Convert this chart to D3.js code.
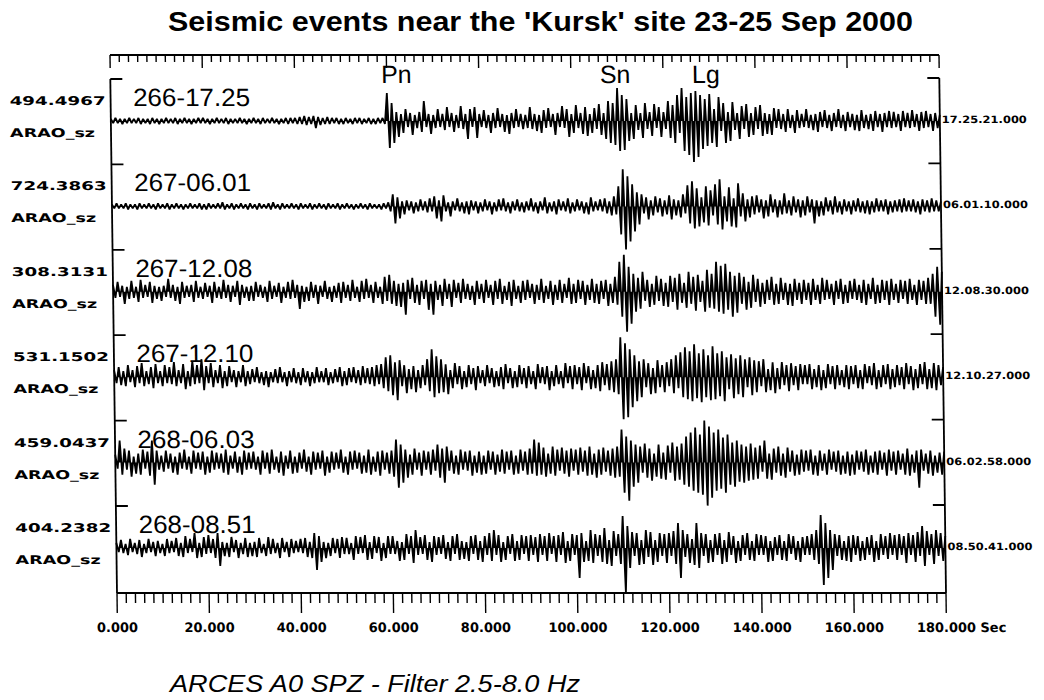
<!DOCTYPE html>
<html><head><meta charset="utf-8">
<script src="https://cdn.jsdelivr.net/npm/d3@7"></script>
<style>body{margin:0;background:#fff}svg{display:block}</style>
</head><body>
<svg id="chart" width="1044" height="700"></svg>
<script>
// ---------------- data ----------------
const chartTitle = "Seismic events near the 'Kursk' site 23-25 Sep 2000";
const footerText = "ARCES A0 SPZ - Filter 2.5-8.0 Hz";
const eventLabels = ["266-17.25","267-06.01","267-12.08","267-12.10","268-06.03","268-08.51"];
const scaleLabels = ["494.4967","724.3863","308.3131","531.1502","459.0437","404.2382"];
const channelLabels = ["ARAO_sz","ARAO_sz","ARAO_sz","ARAO_sz","ARAO_sz","ARAO_sz"];
const startTimes = ["17.25.21.000","06.01.10.000","12.08.30.000","12.10.27.000","06.02.58.000","08.50.41.000"];
const phaseNames = ["Pn","Sn","Lg"];
const phaseTimes = [58.8, 106.3, 126.3];
const timeTicks = [0,20,40,60,80,100,120,140,160,180];
const axisUnit = "Sec";
const sampleStep = 0.5; // seconds between successive peak/trough samples

const wave266_1725 = [].concat(
[2,-2,3,-2,2,-3,2,-2,3,-2,2,-2,3,-3,2,-2,2,-3,3,-2],
[2,-3,2,-2,3,-2,2,-2,3,-3,2,-2,3,-2,2,-3,2,-2,3,-2],
[3,-2,2,-3,2,-2,3,-2,2,-2,3,-3,2,-2,2,-2,3,-2,2,-3],
[2,-2,3,-2,2,-3,3,-2,2,-2,3,-2,2,-3,2,-2,3,-3,3,-2],
[3,-3,4,-3,5,-4,4,-3,5,-7,4,-4,3,-3,4,-3,3,-2,3,-3],
[2,-3,3,-2,2,-3,3,-2,3,-3,2,-2,3,-3,2,-3,3,-2,3,-3],
[28,-27,18,-22,9,-16,7,-12,12,-6,8,-14,6,-7,9,-11,20,-6,7,-13],
[6,-7,12,-6,7,-9,14,-6,8,-11,6,-7,15,-8,7,-18,12,-6,14,-17],
[7,-6,11,-7,6,-12,8,-7,13,-6,7,-11,6,-13,8,-7,12,-6,7,-8],
[6,-7,14,-8,7,-10,6,-12,11,-7,13,-6,7,-14,8,-6,15,-7,12,-16],
[7,-12,16,-7,8,-13,14,-15,7,-12,13,-8,17,-14,8,-18,20,-22,18,-24],
[33,-30,26,-29,22,-20,8,-18,16,-9,8,-17,18,-8,9,-15,17,-7,14,-16],
[9,-8,20,-17,16,-22,26,-12,33,-30,24,-34,28,-41,30,-36,26,-28,22,-25],
[27,-22,12,-26,24,-10,18,-22,9,-20,19,-9,8,-18,15,-8,17,-16,8,-14],
[14,-8,16,-15,8,-13,7,-14,13,-7,12,-8,7,-11,12,-7,6,-12,11,-7],
[7,-6,12,-7,6,-9,7,-11,9,-6,11,-7,6,-10,8,-6,12,-7,6,-10],
[9,-6,7,-9,6,-10,11,-7,6,-8,7,-10,10,-6,7,-11,8,-6,10,-7],
[9,-6,7,-10,10,-6,8,-7,11,-6,7,-10,9,-7,10,-6,7,-10,8,-7],
[6]);

const wave267_0601 = [].concat(
[2,-2,3,-2,2,-2,3,-3,2,-2,2,-3,3,-2,2,-2,3,-2,2,-3],
[3,-2,2,-2,3,-3,2,-2,3,-2,2,-3,2,-2,3,-2,2,-2,3,-3],
[2,-3,3,-2,2,-2,3,-2,4,-3,2,-2,3,-3,2,-2,3,-2,2,-3],
[3,-2,2,-3,3,-2,2,-2,3,-3,4,-2,2,-3,3,-2,2,-2,3,-2],
[2,-3,3,-2,2,-2,3,-3,2,-2,3,-2,2,-3,3,-2,2,-2,3,-3],
[2,-2,3,-2,2,-3,2,-2,3,-2,2,-3,3,-2,2,-2,2,-3,3,-2],
[4,-5,12,-17,9,-12,5,-8,6,-4,5,-7,4,-5,7,-4,5,-6,8,-5],
[10,-12,6,-15,11,-5,4,-10,5,-4,8,-5,4,-7,5,-8,6,-4,5,-7],
[4,-5,7,-4,5,-8,4,-5,7,-4,8,-5,4,-7,5,-4,7,-5,4,-6],
[5,-4,8,-5,4,-7,5,-4,9,-7,4,-5,5,-8,7,-4,5,-5,8,-7],
[4,-5,7,-4,5,-7,4,-8,9,-5,5,-4,7,-5,8,-7,5,-9,10,-8],
[20,-28,37,-43,30,-35,22,-25,14,-18,12,-7,9,-13,6,-9,10,-6,8,-10],
[6,-8,11,-13,7,-9,6,-11,12,-7,21,-17,25,-22,18,-20,9,-16,20,-19],
[16,-9,22,-18,27,-23,10,-15,19,-20,8,-21,23,-10,13,-15,7,-11,10,-8],
[11,-6,7,-12,6,-10,12,-6,7,-11,6,-8,13,-7,6,-9,10,-6,7,-11],
[6,-9,10,-6,7,-17,6,-10,5,-9,9,-5,6,-8,10,-6,5,-8,7,-5],
[5,-8,6,-5,8,-6,5,-7,6,-8,5,-6,8,-5,6,-5,7,-8,5,-6],
[6,-5,7,-6,8,-5,6,-5,7,-6,5,-8,7,-5,6,-6,8,-5,6,-5],
[5]);

const wave267_1208 = [].concat(
[7,-6,10,-5,6,-12,5,-7,11,-6,5,-10,12,-6,7,-5,10,-11,6,-7],
[5,-9,6,-5,13,-6,7,-9,5,-12,10,-6,6,-5,7,-10,11,-6,5,-7],
[9,-5,6,-11,10,-6,5,-7,12,-6,7,-10,6,-5,11,-13,7,-6,5,-9],
[6,-9,10,-5,7,-6,5,-10,11,-7,6,-5,9,-11,5,-6,10,-7,12,-6],
[7,-17,6,-10,5,-9,10,-6,7,-12,6,-5,11,-7,5,-10,6,-6,9,-11],
[10,-6,7,-9,12,-6,5,-10,11,-7,13,-6,7,-11,10,-6,5,-12,15,-9],
[17,-12,11,-14,8,-15,9,-23,12,-7,14,-11,7,-13,11,-7,12,-18,8,-23],
[11,-8,7,-14,13,-7,8,-15,12,-6,9,-11,13,-7,8,-8,6,-13,11,-7],
[8,-11,12,-6,7,-13,11,-7,13,-12,6,-8,10,-14,12,-7,6,-11,11,-8],
[12,-6,8,-12,7,-8,13,-11,6,-7,11,-13,7,-8,12,-11,8,-6,14,-12],
[8,-11,12,-7,11,-13,7,-8,13,-11,8,-12,11,-7,12,-14,8,-11,15,-13],
[30,-25,37,-40,25,-32,18,-20,14,-17,20,-9,12,-15,8,-13,16,-9,13,-14],
[9,-15,16,-10,14,-18,18,-11,9,-16,20,-12,15,-19,17,-10,11,-20,22,-16],
[18,-17,30,-20,26,-22,28,-18,20,-25,16,-21,19,-12,15,-18,10,-16,17,-10],
[13,-15,9,-12,12,-8,15,-13,8,-12,14,-8,9,-13,8,-14,13,-8,9,-12],
[12,-8,9,-13,13,-8,7,-12,14,-8,12,-7,8,-13,11,-7,13,-12,7,-11],
[11,-7,13,-8,7,-11,12,-13,8,-7,14,-12,7,-11,12,-8,11,-13,13,-8],
[8,-11,12,-7,11,-12,13,-8,7,-13,12,-8,11,-12,14,-12,18,-25,25,-33],
[20]);

const wave267_1210 = [].concat(
[7,-6,10,-8,6,-9,12,-5,7,-10,11,-6,14,-9,6,-7,10,-11,13,-6],
[6,-9,12,-6,10,-7,15,-9,7,-6,13,-12,6,-9,16,-7,12,-6,18,-13],
[11,-6,14,-10,7,-6,12,-11,6,-9,11,-5,7,-10,6,-5,12,-9,6,-7],
[8,-5,10,-6,5,-8,6,-10,5,-5,8,-6,10,-5,5,-9,6,-5,9,-6],
[5,-8,9,-5,6,-9,5,-6,10,-5,6,-5,9,-8,5,-6,8,-5,10,-9],
[6,-8,9,-5,10,-6,7,-8,11,-6,9,-7,10,-9,12,-7,13,-11,20,-14],
[22,-18,15,-23,17,-9,12,-16,8,-12,11,-15,7,-11,12,-8,18,-14,28,-20],
[21,-16,18,-15,13,-17,7,-11,14,-7,11,-12,6,-10,12,-7,9,-13,11,-6],
[7,-9,12,-6,9,-10,6,-9,10,-12,13,-6,9,-11,6,-10,12,-7,9,-11],
[11,-7,6,-12,13,-6,10,-7,11,-13,6,-9,12,-7,6,-11,14,-6,11,-12],
[12,-7,10,-13,14,-6,11,-12,7,-11,12,-14,15,-8,13,-13,16,-15,18,-17],
[40,-42,34,-40,28,-30,22,-24,16,-20,18,-10,14,-17,9,-16,17,-10,12,-15],
[15,-9,18,-16,22,-11,25,-20,30,-22,26,-24,33,-21,24,-25,28,-20,22,-23],
[31,-22,24,-19,26,-24,20,-12,23,-21,19,-17,22,-20,18,-10,20,-18,17,-15],
[16,-9,18,-15,8,-13,15,-16,9,-12,15,-8,12,-14,14,-8,11,-13,13,-7],
[12,-7,13,-12,8,-10,12,-13,7,-11,13,-7,11,-12,12,-8,7,-10,12,-12],
[11,-7,12,-11,7,-12,13,-6,11,-8,14,-12,7,-10,12,-7,13,-12,8,-10],
[12,-8,10,-12,14,-7,11,-13,8,-11,13,-7,15,-12,8,-11,14,-13,12,-8],
[10]);

const wave268_0603 = [].concat(
[8,-6,22,-12,14,-7,12,-14,6,-11,9,-12,13,-6,11,-13,22,-22,12,-7],
[7,-9,12,-6,9,-10,6,-12,10,-6,13,-7,6,-11,12,-6,10,-7,11,-12],
[6,-10,12,-7,10,-6,9,-10,13,-12,7,-6,11,-10,6,-12,12,-7,10,-6],
[11,-7,6,-12,12,-6,10,-11,13,-7,6,-10,11,-13,7,-6,12,-11,6,-10],
[10,-6,13,-9,6,-12,11,-7,10,-6,12,-13,6,-10,11,-7,10,-6,13,-10],
[6,-12,11,-7,12,-6,10,-11,7,-10,13,-12,6,-9,11,-13,12,-7,10,-11],
[12,-14,23,-25,18,-20,13,-15,8,-12,14,-7,10,-13,12,-7,11,-12,13,-8],
[18,-15,14,-20,16,-8,12,-11,7,-12,13,-7,11,-8,12,-13,7,-10,11,-12],
[7,-11,12,-7,11,-12,8,-9,13,-11,11,-7,12,-12,7,-11,13,-8,11,-12],
[14,-11,23,-13,20,-12,15,-14,9,-11,16,-13,13,-8,15,-11,12,-14,14,-8],
[13,-12,15,-9,12,-13,16,-12,9,-15,13,-12,15,-9,12,-13,14,-15,16,-14],
[33,-30,26,-38,22,-24,18,-20,16,-10,19,-15,14,-18,9,-14,18,-16,10,-17],
[17,-10,20,-18,16,-17,19,-22,26,-24,30,-28,35,-30,28,-32,42,-43,36,-35],
[30,-28,33,-26,25,-30,28,-22,20,-24,22,-19,18,-20,16,-18,19,-17,15,-16],
[17,-9,22,-16,9,-17,14,-10,16,-13,9,-15,15,-9,12,-13,8,-12,13,-9],
[12,-8,13,-12,7,-13,12,-8,9,-12,13,-7,11,-9,12,-12,7,-11,11,-13],
[8,-12,12,-7,11,-9,13,-12,7,-10,11,-12,12,-7,10,-13,13,-8,11,-12],
[12,-7,9,-12,14,-13,8,-10,12,-25,13,-8,9,-11,12,-13,7,-10,10,-12],
[11]);

const wave268_0851 = [].concat(
[5,-4,8,-5,4,-7,9,-4,5,-6,8,-9,4,-5,9,-4,6,-8,7,-5],
[4,-8,9,-5,7,-4,10,-8,5,-9,12,-5,9,-4,15,-10,5,-9,11,-6],
[13,-5,9,-10,15,-18,6,-8,5,-9,11,-4,8,-10,5,-6,10,-9,5,-8],
[6,-9,10,-5,4,-8,11,-6,9,-5,5,-10,10,-4,6,-9,9,-5,7,-4],
[9,-5,10,-9,6,-10,15,-22,12,-14,6,-10,5,-8,10,-5,9,-10,11,-6],
[10,-6,5,-12,12,-6,11,-5,13,-12,6,-11,12,-5,11,-13,5,-10,12,-6],
[12,-6,7,-13,6,-12,14,-6,12,-15,18,-7,11,-6,13,-12,6,-14,12,-7],
[11,-6,13,-11,6,-13,12,-6,14,-12,7,-11,6,-13,12,-6,13,-12,7,-14],
[12,-7,15,-13,18,-7,13,-14,6,-12,12,-6,14,-13,7,-12,13,-6,12,-13],
[13,-7,11,-14,14,-7,12,-13,15,-6,12,-14,13,-7,16,-15,7,-13,14,-7],
[13,-30,15,-14,7,-13,18,-15,14,-8,13,-14,20,-16,8,-18,17,-8,14,-16],
[32,-45,22,-20,16,-8,15,-17,8,-16,18,-9,16,-17,8,-14,15,-8,14,-15],
[15,-8,17,-16,25,-30,18,-9,14,-15,9,-17,25,-20,15,-8,14,-15,8,-14],
[14,-7,15,-16,8,-14,16,-7,12,-15,7,-13,13,-7,15,-12,7,-13,14,-7],
[13,-7,12,-14,7,-13,11,-7,13,-12,7,-13,14,-6,12,-12,7,-14,11,-7],
[12,-7,14,-12,18,-16,33,-37,25,-30,18,-22,14,-8,13,-12,7,-13,12,-14],
[13,-7,12,-13,7,-12,11,-7,13,-14,7,-12,14,-7,12,-11,15,-7,13,-12],
[14,-7,12,-15,15,-7,13,-14,16,-8,22,-18,17,-7,14,-16,18,-8,15,-13],
[12]);

const waves = [wave266_1725, wave267_0601, wave267_1208, wave267_1210, wave268_0603, wave268_0851];

// ---------------- layout ----------------
const svg = d3.select("#chart");
const topAxisY = 55, bottomAxisY = 593;
const firstBase = 121, traceGap = 85.4;
const skewK = 7 / 538;

const x = d3.scaleLinear().domain([0, 180]).range([117, 946]);

const FONT = "'Liberation Sans', Arial, Helvetica, sans-serif";
const WIDE = "'DejaVu Sans', Verdana, sans-serif";

// title
svg.append("text")
  .attr("x", 168).attr("y", 31)
  .attr("textLength", 745).attr("lengthAdjust", "spacingAndGlyphs")
  .attr("font-family", FONT).attr("font-weight", "bold").attr("font-size", 27)
  .text(chartTitle);

// footer
svg.append("text")
  .attr("x", 170).attr("y", 692)
  .attr("textLength", 410).attr("lengthAdjust", "spacingAndGlyphs")
  .attr("font-family", FONT).attr("font-style", "italic").attr("font-size", 24)
  .text(footerText);

// plot group, slightly sheared like the scanned original
const g = svg.append("g")
  .attr("transform", `matrix(1,0,${skewK},1,${-bottomAxisY * skewK},0)`);

const axisStroke = 1.8;
const minorTicks = d3.range(0, 181, 2);

// top axis
g.append("line").attr("x1", x(0)).attr("x2", x(180)).attr("y1", topAxisY).attr("y2", topAxisY)
  .attr("stroke", "#000").attr("stroke-width", axisStroke);
g.append("g").selectAll("line").data(minorTicks).join("line")
  .attr("x1", d => x(d)).attr("x2", d => x(d))
  .attr("y1", topAxisY).attr("y2", d => topAxisY + (d % 20 === 0 ? 13 : 7))
  .attr("stroke", "#000").attr("stroke-width", 1.4);

// bottom axis
g.append("line").attr("x1", x(0)).attr("x2", x(180)).attr("y1", bottomAxisY).attr("y2", bottomAxisY)
  .attr("stroke", "#000").attr("stroke-width", axisStroke);
g.append("g").selectAll("line").data(minorTicks).join("line")
  .attr("x1", d => x(d)).attr("x2", d => x(d))
  .attr("y1", bottomAxisY).attr("y2", d => bottomAxisY + (d % 20 === 0 ? 20 : 10))
  .attr("stroke", "#000").attr("stroke-width", 1.4);
g.append("g").selectAll("text").data(timeTicks).join("text")
  .attr("x", d => x(d)).attr("y", 632)
  .attr("text-anchor", "middle")
  .attr("font-family", WIDE).attr("font-weight", "bold").attr("font-size", 13)
  .text(d => d3.format(".3f")(d));
g.append("text").attr("x", x(180) + 34).attr("y", 632)
  .attr("font-family", WIDE).attr("font-weight", "bold").attr("font-size", 13)
  .text(axisUnit);

// frame verticals
const bases = eventLabels.map((_, i) => firstBase + i * traceGap);
g.append("line").attr("x1", x(0)).attr("x2", x(0)).attr("y1", bases[0] - 42).attr("y2", bottomAxisY)
  .attr("stroke", "#000").attr("stroke-width", axisStroke);
g.append("line").attr("x1", x(180)).attr("x2", x(180)).attr("y1", bases[0] - 43).attr("y2", bottomAxisY)
  .attr("stroke", "#000").attr("stroke-width", axisStroke);

// phase labels
g.append("g").selectAll("text").data(phaseNames).join("text")
  .attr("x", (d, i) => x(phaseTimes[i])).attr("y", 83)
  .attr("font-family", FONT).attr("font-size", 25)
  .text(d => d);

// traces
eventLabels.forEach((lab, i) => {
  const b = bases[i];
  const y = d3.scaleLinear().domain([-50, 50]).range([b + 50, b - 50]);
  const tg = g.append("g");
  // bracket ticks
  tg.append("line").attr("x1", x(0)).attr("x2", x(0) + 12).attr("y1", b - 42).attr("y2", b - 42)
    .attr("stroke", "#000").attr("stroke-width", axisStroke);
  tg.append("line").attr("x1", x(180) - 12).attr("x2", x(180)).attr("y1", b - 43).attr("y2", b - 43)
    .attr("stroke", "#000").attr("stroke-width", axisStroke);
  // waveform: filled between trace and its zero line, then outlined
  const area = d3.area().x((d, k) => x(k * sampleStep)).y0(y(0)).y1(d => y(d));
  tg.append("path").datum(waves[i]).attr("d", area)
    .attr("fill", "#000").attr("stroke", "none");
  const line = d3.line().x((d, k) => x(k * sampleStep)).y(d => y(d));
  tg.append("path").datum(waves[i]).attr("d", line)
    .attr("fill", "none").attr("stroke", "#000").attr("stroke-width", 1.8)
    .attr("stroke-linejoin", "miter").attr("stroke-miterlimit", 1.5);
  // labels
  tg.append("text").attr("x", x(0) + 22.5).attr("y", b - 15)
    .attr("textLength", 117).attr("lengthAdjust", "spacingAndGlyphs")
    .attr("font-family", FONT).attr("font-size", 25).text(lab);
  tg.append("text").attr("x", x(0) - 101).attr("y", b - 16)
    .attr("textLength", 96).attr("lengthAdjust", "spacingAndGlyphs")
    .attr("font-family", WIDE).attr("font-weight", "bold").attr("font-size", 12).text(scaleLabels[i]);
  tg.append("text").attr("x", x(0) - 101).attr("y", b + 16)
    .attr("textLength", 85).attr("lengthAdjust", "spacingAndGlyphs")
    .attr("font-family", WIDE).attr("font-weight", "bold").attr("font-size", 12).text(channelLabels[i]);
  tg.append("text").attr("x", x(180) + 2).attr("y", b + 2)
    .attr("textLength", 85).attr("lengthAdjust", "spacingAndGlyphs")
    .attr("font-family", WIDE).attr("font-weight", "bold").attr("font-size", 10).text(startTimes[i]);
});
</script>
</body></html>
